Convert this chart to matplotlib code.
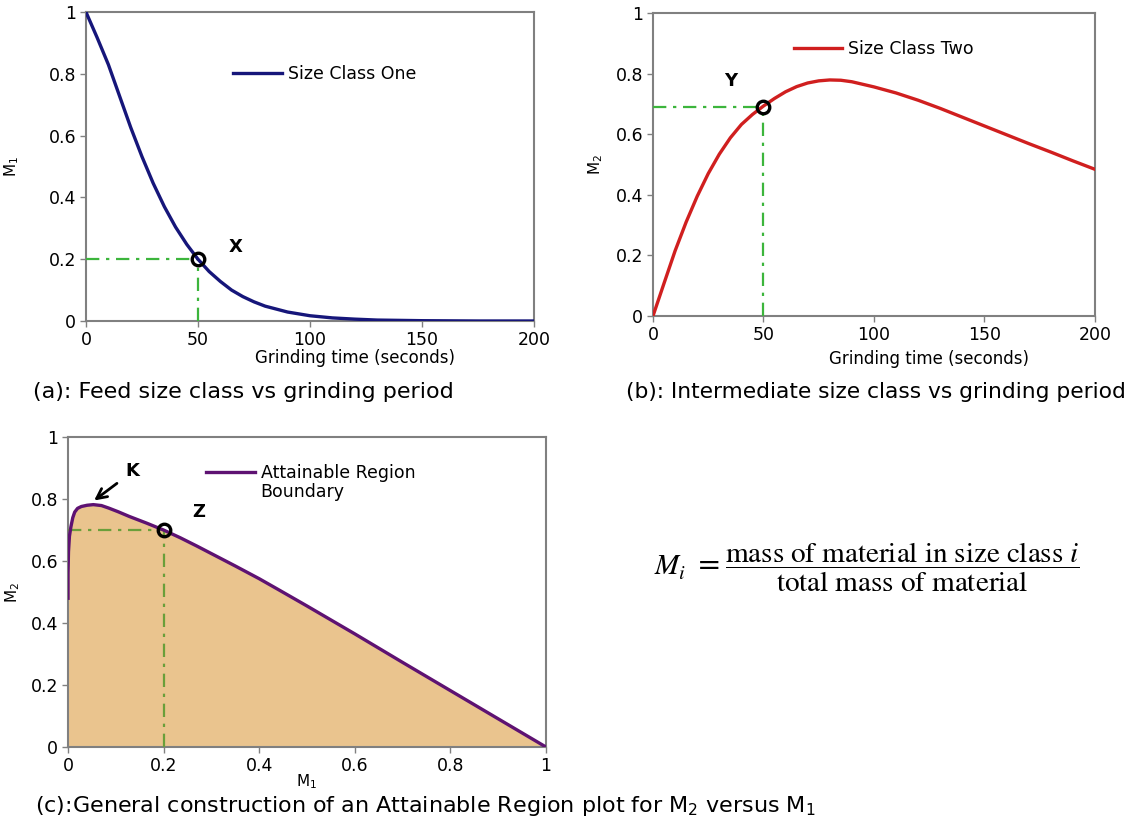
import matplotlib.pyplot as plt
import numpy as np

plt.rcParams['font.family'] = 'DejaVu Sans'
plt.rcParams['mathtext.default'] = 'regular'

# size class one (feed) vs grinding time
t_one = [0, 5, 10, 15, 20, 25, 30, 35, 40, 45, 50, 55, 60, 65, 70, 75, 80, 90,
         100, 110, 120, 130, 140, 150, 175, 200]
m_one = [1.0, 0.917, 0.83, 0.728, 0.626, 0.532, 0.446, 0.37, 0.304, 0.248, 0.2,
         0.16, 0.128, 0.1, 0.079, 0.062, 0.048, 0.029, 0.017, 0.01, 0.006,
         0.003, 0.002, 0.001, 0.0, 0.0]

# size class two (intermediate) vs grinding time
t_two = [0, 5, 10, 15, 20, 25, 30, 35, 40, 45, 50, 55, 60, 65, 70, 75, 80, 85, 90,
         100, 110, 120, 130, 140, 150, 160, 170, 180, 190, 200]
m_two = [0.0, 0.108, 0.215, 0.31, 0.395, 0.47, 0.534, 0.588, 0.632, 0.665, 0.693,
         0.718, 0.74, 0.757, 0.769, 0.776, 0.779, 0.778, 0.773, 0.756, 0.736,
         0.712, 0.685, 0.656, 0.627, 0.598, 0.569, 0.541, 0.512, 0.484]

# attainable region boundary, M2 against M1
ar_m1 = [0.0, 0.0, 0.001, 0.003, 0.006, 0.01, 0.014, 0.02, 0.028, 0.04, 0.053,
         0.07, 0.085, 0.105, 0.128, 0.165, 0.2, 0.235, 0.27, 0.31, 0.35, 0.4,
         0.44, 0.5, 0.6, 0.7, 0.8, 0.9, 1.0]
ar_m2 = [0.48, 0.56, 0.63, 0.68, 0.71, 0.74, 0.758, 0.77, 0.776, 0.78, 0.782,
         0.779, 0.771, 0.759, 0.744, 0.722, 0.70, 0.675, 0.648, 0.616, 0.584,
         0.543, 0.508, 0.455, 0.365, 0.273, 0.182, 0.091, 0.0]

# marked points X, Y, Z
pt_x = (50, 0.2)
pt_y = (50, 0.69)
pt_z = (0.2, 0.7)

GREY = '#808080'
DASHDOT = (0, (6, 3, 1.5, 3))


def style_axes(ax, xlim, xticks, xticklabels):
    ax.set_xlim(*xlim)
    ax.set_ylim(0, 1)
    ax.set_xticks(xticks)
    ax.set_xticklabels(xticklabels)
    ax.set_yticks([0, 0.2, 0.4, 0.6, 0.8, 1])
    ax.set_yticklabels(['0', '0.2', '0.4', '0.6', '0.8', '1'])
    for s in ax.spines.values():
        s.set_color(GREY)
        s.set_linewidth(1.5)
    ax.tick_params(direction='out', length=4, width=1, color=GREY,
                   labelsize=12.5, pad=3)


def guides(ax, pt, color):
    ax.plot([0, pt[0]], [pt[1], pt[1]], color=color, lw=1.6,
            linestyle=DASHDOT, zorder=3)
    ax.plot([pt[0], pt[0]], [0, pt[1]], color=color, lw=1.6,
            linestyle=DASHDOT, zorder=3)
    ax.plot(*pt, marker='o', ms=9, mfc='none', mec='black', mew=2.4, zorder=5)


legend_kw = dict(loc='center left', frameon=False, fontsize=12.5,
                 handlelength=2.8, handletextpad=0.35, borderpad=0,
                 borderaxespad=0)

fig = plt.figure(figsize=(11.43, 8.22), dpi=100)

# (a) feed size class
ax1 = fig.add_axes([0.0752, 0.6095, 0.3920, 0.3759])
guides(ax1, pt_x, '#3cb53c')
ax1.plot(t_one, m_one, color='#16167a', lw=2.4, label='Size Class One', zorder=4)
style_axes(ax1, (0, 200), [0, 50, 100, 150, 200], ['0', '50', '100', '150', '200'])
ax1.text(67, 0.24, 'X', fontsize=13, fontweight='bold', ha='center', va='center')
ax1.set_xlabel('Grinding time (seconds)', fontsize=12)
ax1.xaxis.set_label_coords(0.6, -0.092)
ax1.set_ylabel('M$_1$', fontsize=11)
ax1.yaxis.set_label_coords(-0.145, 0.5)
ax1.legend(bbox_to_anchor=(0.328, 0.799), **legend_kw)

# (b) intermediate size class
ax2 = fig.add_axes([0.5713, 0.6156, 0.3867, 0.3686])
guides(ax2, pt_y, '#3cb53c')
ax2.plot(t_two, m_two, color='#d01f1f', lw=2.4, label='Size Class Two', zorder=4)
style_axes(ax2, (0, 200), [0, 50, 100, 150, 200], ['0', '50', '100', '150', '200'])
ax2.text(35, 0.775, 'Y', fontsize=13, fontweight='bold', ha='center', va='center')
ax2.set_xlabel('Grinding time (seconds)', fontsize=12)
ax2.xaxis.set_label_coords(0.624, -0.112)
ax2.set_ylabel('M$_2$', fontsize=11)
ax2.yaxis.set_label_coords(-0.108, 0.5)
ax2.legend(bbox_to_anchor=(0.318, 0.881), **legend_kw)

# (c) attainable region
ax3 = fig.add_axes([0.0595, 0.0912, 0.4182, 0.3771])
ax3.fill_between(ar_m1, ar_m2, 0, color='#eac48e', lw=0, zorder=1)
guides(ax3, pt_z, '#6a9f3a')
ax3.plot(ar_m1, ar_m2, color='#5e1272', lw=2.4, label='Attainable Region',
         zorder=4)
style_axes(ax3, (0, 1), [0, 0.2, 0.4, 0.6, 0.8, 1],
           ['0', '0.2', '0.4', '0.6', '0.8', '1'])
ax3.text(0.273, 0.757, 'Z', fontsize=13, fontweight='bold', ha='center', va='center')
ax3.text(0.135, 0.89, 'K', fontsize=13, fontweight='bold', ha='center', va='center')
ax3.annotate('', xy=(0.05, 0.79), xytext=(0.107, 0.856),
             arrowprops=dict(arrowstyle='->', lw=2, color='black',
                             mutation_scale=18), zorder=6)
ax3.set_xlabel('M$_1$', fontsize=11)
ax3.xaxis.set_label_coords(0.498, -0.08)
ax3.set_ylabel('M$_2$', fontsize=11)
ax3.yaxis.set_label_coords(-0.096, 0.5)
ax3.legend(bbox_to_anchor=(0.2895, 0.884), **legend_kw)
ax3.text(0.403, 0.824, 'Boundary', fontsize=12.5, ha='left', va='center',
         transform=ax3.transAxes)

# captions
fig.text(0.029, 0.523, '(a): Feed size class vs grinding period', fontsize=16,
         va='center')
fig.text(0.5475, 0.523, '(b): Intermediate size class vs grinding period',
         fontsize=15.7, va='center')
fig.text(0.031, 0.02, '(c):General construction of an Attainable Region plot '
         'for M$_2$ versus M$_1$', fontsize=16, va='center')

# definition of the mass fraction
fig.text(0.758, 0.31,
         r'$\mathit{M}_{\mathit{i}}\ = \dfrac{\mathrm{mass\ of\ material\ in\ size\ class}\ \mathit{i}}'
         r'{\mathrm{total\ mass\ of\ material}}$',
         fontsize=21, ha='center', va='center', math_fontfamily='stix')

fig.savefig('out.png', dpi=100)
